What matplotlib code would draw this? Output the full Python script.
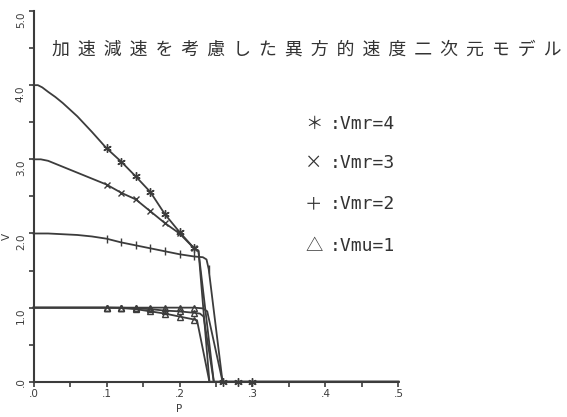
import numpy as np
import matplotlib
matplotlib.use("Agg")
import matplotlib.pyplot as plt

# 読み取った値 (P, V)
p_vmr4 = [0.0, 0.006, 0.012, 0.02, 0.03, 0.04, 0.06, 0.08, 0.10, 0.12, 0.14, 0.16, 0.18, 0.20, 0.22, 0.226, 0.241, 0.26, 0.28, 0.30, 0.50]
v_vmr4 = [4.00, 4.00, 3.97, 3.91, 3.84, 3.76, 3.58, 3.37, 3.15, 2.97, 2.77, 2.56, 2.26, 2.02, 1.80, 1.77, 0.0, 0.0, 0.0, 0.0, 0.0]

p_vmr3 = [0.0, 0.01, 0.02, 0.04, 0.06, 0.08, 0.10, 0.12, 0.14, 0.16, 0.18, 0.20, 0.22, 0.226, 0.247, 0.26, 0.28, 0.30, 0.50]
v_vmr3 = [3.00, 3.00, 2.98, 2.90, 2.82, 2.74, 2.66, 2.55, 2.46, 2.30, 2.14, 2.00, 1.80, 1.76, 0.0, 0.0, 0.0, 0.0, 0.0]

p_vmr2 = [0.0, 0.02, 0.04, 0.06, 0.08, 0.10, 0.12, 0.14, 0.16, 0.18, 0.20, 0.22, 0.232, 0.237, 0.24, 0.259, 0.50]
v_vmr2 = [2.00, 2.00, 1.99, 1.98, 1.96, 1.93, 1.88, 1.84, 1.80, 1.76, 1.72, 1.69, 1.68, 1.65, 1.52, 0.0, 0.0]

# Vmu=1 (各Vmrに対応)
p_mu2 = [0.0, 0.10, 0.12, 0.14, 0.16, 0.18, 0.20, 0.22, 0.232, 0.238, 0.259, 0.50]
v_mu2 = [1.00, 1.00, 1.00, 1.00, 1.00, 1.00, 1.00, 1.00, 0.99, 0.95, 0.0, 0.0]
p_mu3 = [0.0, 0.10, 0.12, 0.14, 0.16, 0.18, 0.20, 0.22, 0.228, 0.233, 0.247, 0.50]
v_mu3 = [1.00, 1.00, 1.00, 0.99, 0.98, 0.96, 0.95, 0.93, 0.92, 0.88, 0.0, 0.0]
p_mu4 = [0.0, 0.10, 0.12, 0.14, 0.16, 0.18, 0.20, 0.22, 0.224, 0.241, 0.50]
v_mu4 = [1.00, 1.00, 0.995, 0.98, 0.95, 0.92, 0.88, 0.84, 0.83, 0.0, 0.0]

# 記号を付けるP
mark_vmr4 = [0.10, 0.12, 0.14, 0.16, 0.18, 0.20, 0.22, 0.26, 0.28, 0.30]
mark_vmr3 = [0.10, 0.12, 0.14, 0.16, 0.18, 0.20, 0.22]
mark_vmr2 = [0.10, 0.12, 0.14, 0.16, 0.18, 0.20, 0.22, 0.24]
mark_mu = [0.10, 0.12, 0.14, 0.16, 0.18, 0.20, 0.22]

title = "加速減速を考慮した異方的速度二次元モデル"
legend_sym = ["＊", "×", "＋", "△"]
legend_txt = [":Vmr=4", ":Vmr=3", ":Vmr=2", ":Vmu=1"]

xticks = [0.0, 0.1, 0.2, 0.3, 0.4, 0.5]
xticklabels = [".0", ".1", ".2", ".3", ".4", ".5"]
yticks = [0, 1, 2, 3, 4, 5]
yticklabels = [".0", "1.0", "2.0", "3.0", "4.0", "5.0"]

ink = "#3c3c3c"

fig = plt.figure(figsize=(5.67, 4.17), dpi=100)
ax = fig.add_axes([0.0591, 0.0844, 0.6437, 0.8892])


def curve(p, v, marks, marker, ms, mew=1.0, fill="full"):
    p = np.array(p)
    mask = np.isin(np.round(p, 3), np.round(marks, 3))
    ax.plot(p, v, color=ink, lw=1.3, marker=marker, ms=ms, mew=mew,
            markevery=list(mask), fillstyle=fill, mfc="none", mec=ink,
            clip_on=False, zorder=3)


curve(p_mu2, v_mu2, mark_mu, "^", 4.5, fill="none")
curve(p_mu3, v_mu3, mark_mu, "^", 4.5, fill="none")
curve(p_mu4, v_mu4, mark_mu, "^", 4.5, fill="none")
curve(p_vmr2, v_vmr2, mark_vmr2, "|", 6)
curve(p_vmr3, v_vmr3, mark_vmr3, "x", 4.5)
curve(p_vmr4, v_vmr4, mark_vmr4, (6, 2, 0), 6)

ax.set_xlim(0, 0.5)
ax.set_ylim(0, 5)
for s in ["top", "right"]:
    ax.spines[s].set_visible(False)
for s in ["left", "bottom"]:
    ax.spines[s].set_color(ink)
    ax.spines[s].set_linewidth(1.5)

ax.set_xticks(xticks)
ax.set_xticklabels(xticklabels)
ax.set_xticks(np.arange(0.05, 0.5, 0.1), minor=True)
ax.set_yticks(yticks)
ax.set_yticklabels(yticklabels)
ax.set_yticks(np.arange(0.5, 5, 1.0), minor=True)
ax.tick_params(which="both", direction="out", length=3.5, width=1.2,
               color=ink, labelcolor=ink, labelsize=7.5)
ax.tick_params(axis="x", pad=2)
ax.tick_params(axis="y", pad=2)
for lab in ax.get_yticklabels():
    lab.set_rotation(90)
    lab.set_va("top")
ax.get_yticklabels()[0].set_va("center")

fig.text(7 / 567, 1 - 236 / 417, "V", rotation=90, ha="center", va="center",
         fontsize=7.5, color=ink)
fig.text(179.5 / 567, 1 - 409 / 417, "P", ha="center", va="center",
         fontsize=7.5, color=ink)

spaced = "  ".join(title)
fig.text(52 / 567, 1 - 50 / 417, spaced, ha="left", va="center",
         fontsize=12.9, color="#333333", family=["Noto Sans CJK JP", "DejaVu Sans"])

rows = [124, 163, 204, 246]
for sym, txt, yy in zip(legend_sym, legend_txt, rows):
    fig.text(305 / 567, 1 - yy / 417, sym, ha="left", va="center",
             fontsize=12.5, color="#333333", family=["Noto Sans CJK JP", "DejaVu Sans"])
    fig.text(330 / 567, 1 - yy / 417, txt, ha="left", va="center",
             fontsize=13, color="#333333", family=["DejaVu Sans Mono"])

fig.savefig("out.png", dpi=100)
